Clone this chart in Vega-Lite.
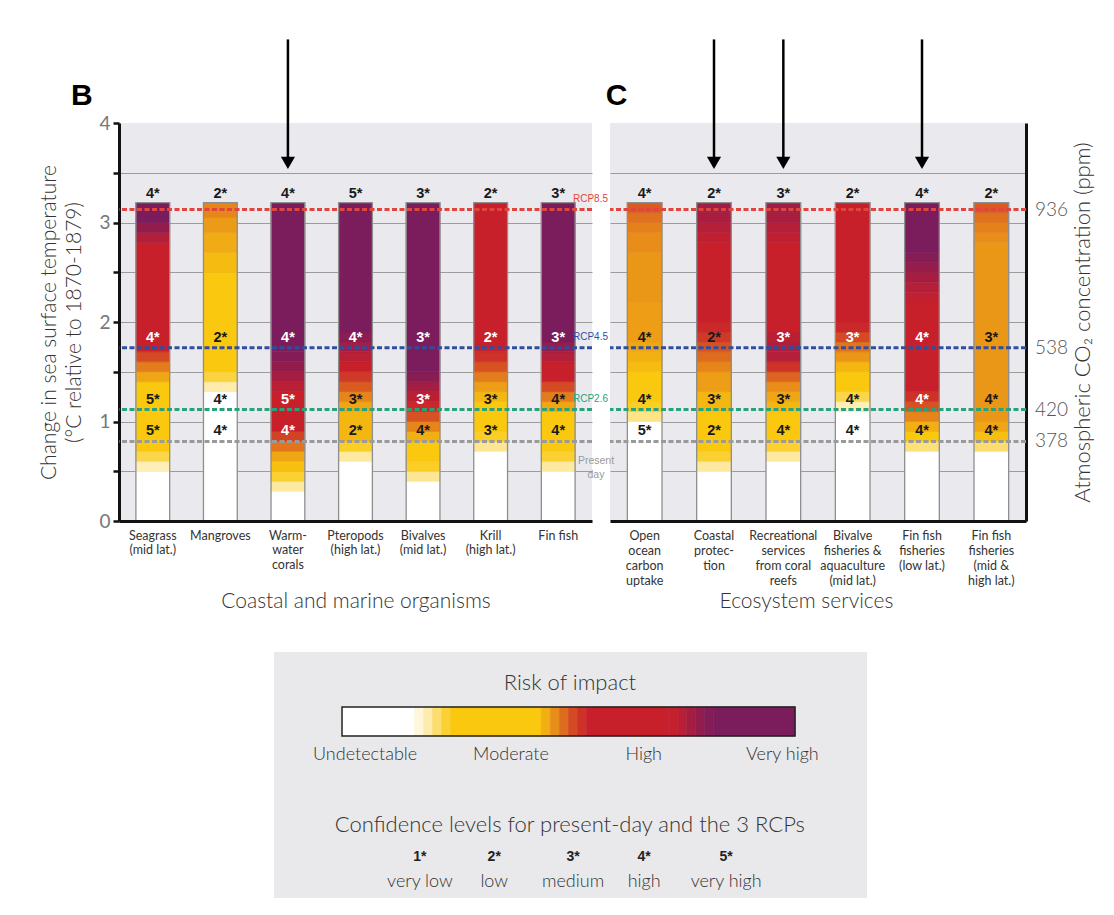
{
  "$schema": "https://vega.github.io/schema/vega-lite/v6.json",
  "background": "white",
  "padding": {"left": 38, "top": 38, "right": 10, "bottom": 5},
  "config": {"view": {"stroke": null}, "font": "Lato"},
  "datasets": {
    "rcp": [
      {"s": "RCP8.5", "t": 3.13, "ppm": "936"},
      {"s": "RCP4.5", "t": 1.74, "ppm": "538"},
      {"s": "RCP2.6", "t": 1.12, "ppm": "420"},
      {"s": "Present day", "t": 0.8, "ppm": "378"}
    ],
    "barsB": [
      {"c": "Seagrass\n(mid lat.)", "top": 3.2},
      {"c": "Mangroves", "top": 3.2},
      {"c": "Warm-\nwater\ncorals", "top": 3.2},
      {"c": "Pteropods\n(high lat.)", "top": 3.2},
      {"c": "Bivalves\n(mid lat.)", "top": 3.2},
      {"c": "Krill\n(high lat.)", "top": 3.2},
      {"c": "Fin fish", "top": 3.2}
    ],
    "barsC": [
      {"c": "Open\nocean\ncarbon\nuptake", "top": 3.2},
      {"c": "Coastal\nprotec-\ntion", "top": 3.2},
      {"c": "Recreational\nservices\nfrom coral\nreefs", "top": 3.2},
      {"c": "Bivalve\nfisheries &\naquaculture\n(mid lat.)", "top": 3.2},
      {"c": "Fin fish\nfisheries\n(low lat.)", "top": 3.2},
      {"c": "Fin fish\nfisheries\n(mid &\nhigh lat.)", "top": 3.2}
    ],
    "arrowsB": [{"c": "Warm-\nwater\ncorals"}],
    "arrowsC": [
      {"c": "Coastal\nprotec-\ntion"},
      {"c": "Recreational\nservices\nfrom coral\nreefs"},
      {"c": "Fin fish\nfisheries\n(low lat.)"}
    ],
    "cellsB": [
      {"c": "Seagrass\n(mid lat.)", "t": 0, "u": 0.5, "r": 0},
      {"c": "Seagrass\n(mid lat.)", "t": 0.5, "u": 0.6, "r": 0.3},
      {"c": "Seagrass\n(mid lat.)", "t": 0.6, "u": 0.7, "r": 0.75},
      {"c": "Seagrass\n(mid lat.)", "t": 0.7, "u": 1.4, "r": 1},
      {"c": "Seagrass\n(mid lat.)", "t": 1.4, "u": 1.5, "r": 1.2},
      {"c": "Seagrass\n(mid lat.)", "t": 1.5, "u": 1.6, "r": 1.45},
      {"c": "Seagrass\n(mid lat.)", "t": 1.6, "u": 1.7, "r": 1.75},
      {"c": "Seagrass\n(mid lat.)", "t": 1.7, "u": 2.8, "r": 2},
      {"c": "Seagrass\n(mid lat.)", "t": 2.8, "u": 2.9, "r": 2.3},
      {"c": "Seagrass\n(mid lat.)", "t": 2.9, "u": 3.0, "r": 2.7},
      {"c": "Seagrass\n(mid lat.)", "t": 3.0, "u": 3.2, "r": 3},
      {"c": "Mangroves", "t": 0, "u": 1.3, "r": 0},
      {"c": "Mangroves", "t": 1.3, "u": 1.4, "r": 0.35},
      {"c": "Mangroves", "t": 1.4, "u": 1.5, "r": 0.8},
      {"c": "Mangroves", "t": 1.5, "u": 2.5, "r": 1},
      {"c": "Mangroves", "t": 2.5, "u": 2.7, "r": 1.08},
      {"c": "Mangroves", "t": 2.7, "u": 2.9, "r": 1.17},
      {"c": "Mangroves", "t": 2.9, "u": 3.05, "r": 1.27},
      {"c": "Mangroves", "t": 3.05, "u": 3.2, "r": 1.4},
      {"c": "Warm-\nwater\ncorals", "t": 0, "u": 0.3, "r": 0},
      {"c": "Warm-\nwater\ncorals", "t": 0.3, "u": 0.4, "r": 0.4},
      {"c": "Warm-\nwater\ncorals", "t": 0.4, "u": 0.5, "r": 0.85},
      {"c": "Warm-\nwater\ncorals", "t": 0.5, "u": 0.6, "r": 1.05},
      {"c": "Warm-\nwater\ncorals", "t": 0.6, "u": 0.7, "r": 1.2},
      {"c": "Warm-\nwater\ncorals", "t": 0.7, "u": 0.8, "r": 1.5},
      {"c": "Warm-\nwater\ncorals", "t": 0.8, "u": 0.9, "r": 1.8},
      {"c": "Warm-\nwater\ncorals", "t": 0.9, "u": 1.3, "r": 2},
      {"c": "Warm-\nwater\ncorals", "t": 1.3, "u": 1.4, "r": 2.2},
      {"c": "Warm-\nwater\ncorals", "t": 1.4, "u": 1.5, "r": 2.45},
      {"c": "Warm-\nwater\ncorals", "t": 1.5, "u": 1.6, "r": 2.7},
      {"c": "Warm-\nwater\ncorals", "t": 1.6, "u": 1.7, "r": 2.9},
      {"c": "Warm-\nwater\ncorals", "t": 1.7, "u": 3.2, "r": 3},
      {"c": "Pteropods\n(high lat.)", "t": 0, "u": 0.6, "r": 0},
      {"c": "Pteropods\n(high lat.)", "t": 0.6, "u": 0.7, "r": 0.4},
      {"c": "Pteropods\n(high lat.)", "t": 0.7, "u": 0.8, "r": 0.9},
      {"c": "Pteropods\n(high lat.)", "t": 0.8, "u": 1.1, "r": 1.1},
      {"c": "Pteropods\n(high lat.)", "t": 1.1, "u": 1.2, "r": 1.2},
      {"c": "Pteropods\n(high lat.)", "t": 1.2, "u": 1.3, "r": 1.4},
      {"c": "Pteropods\n(high lat.)", "t": 1.3, "u": 1.4, "r": 1.65},
      {"c": "Pteropods\n(high lat.)", "t": 1.4, "u": 1.5, "r": 1.85},
      {"c": "Pteropods\n(high lat.)", "t": 1.5, "u": 1.6, "r": 2},
      {"c": "Pteropods\n(high lat.)", "t": 1.6, "u": 1.7, "r": 2.2},
      {"c": "Pteropods\n(high lat.)", "t": 1.7, "u": 1.8, "r": 2.5},
      {"c": "Pteropods\n(high lat.)", "t": 1.8, "u": 1.9, "r": 2.8},
      {"c": "Pteropods\n(high lat.)", "t": 1.9, "u": 3.2, "r": 3},
      {"c": "Bivalves\n(mid lat.)", "t": 0, "u": 0.4, "r": 0},
      {"c": "Bivalves\n(mid lat.)", "t": 0.4, "u": 0.5, "r": 0.45},
      {"c": "Bivalves\n(mid lat.)", "t": 0.5, "u": 0.6, "r": 0.9},
      {"c": "Bivalves\n(mid lat.)", "t": 0.6, "u": 0.8, "r": 1},
      {"c": "Bivalves\n(mid lat.)", "t": 0.8, "u": 0.9, "r": 1.15},
      {"c": "Bivalves\n(mid lat.)", "t": 0.9, "u": 1.0, "r": 1.4},
      {"c": "Bivalves\n(mid lat.)", "t": 1.0, "u": 1.1, "r": 1.7},
      {"c": "Bivalves\n(mid lat.)", "t": 1.1, "u": 1.2, "r": 1.95},
      {"c": "Bivalves\n(mid lat.)", "t": 1.2, "u": 1.3, "r": 2.15},
      {"c": "Bivalves\n(mid lat.)", "t": 1.3, "u": 1.4, "r": 2.5},
      {"c": "Bivalves\n(mid lat.)", "t": 1.4, "u": 1.5, "r": 2.85},
      {"c": "Bivalves\n(mid lat.)", "t": 1.5, "u": 3.2, "r": 3},
      {"c": "Krill\n(high lat.)", "t": 0, "u": 0.7, "r": 0},
      {"c": "Krill\n(high lat.)", "t": 0.7, "u": 0.8, "r": 0.45},
      {"c": "Krill\n(high lat.)", "t": 0.8, "u": 0.9, "r": 0.9},
      {"c": "Krill\n(high lat.)", "t": 0.9, "u": 1.2, "r": 1},
      {"c": "Krill\n(high lat.)", "t": 1.2, "u": 1.3, "r": 1.1},
      {"c": "Krill\n(high lat.)", "t": 1.3, "u": 1.4, "r": 1.25},
      {"c": "Krill\n(high lat.)", "t": 1.4, "u": 1.5, "r": 1.45},
      {"c": "Krill\n(high lat.)", "t": 1.5, "u": 1.6, "r": 1.7},
      {"c": "Krill\n(high lat.)", "t": 1.6, "u": 1.7, "r": 1.9},
      {"c": "Krill\n(high lat.)", "t": 1.7, "u": 3.2, "r": 2},
      {"c": "Fin fish", "t": 0, "u": 0.5, "r": 0},
      {"c": "Fin fish", "t": 0.5, "u": 0.6, "r": 0.4},
      {"c": "Fin fish", "t": 0.6, "u": 0.7, "r": 0.85},
      {"c": "Fin fish", "t": 0.7, "u": 1.1, "r": 1},
      {"c": "Fin fish", "t": 1.1, "u": 1.2, "r": 1.2},
      {"c": "Fin fish", "t": 1.2, "u": 1.3, "r": 1.45},
      {"c": "Fin fish", "t": 1.3, "u": 1.4, "r": 1.75},
      {"c": "Fin fish", "t": 1.4, "u": 1.6, "r": 2},
      {"c": "Fin fish", "t": 1.6, "u": 1.7, "r": 2.3},
      {"c": "Fin fish", "t": 1.7, "u": 1.8, "r": 2.65},
      {"c": "Fin fish", "t": 1.8, "u": 3.2, "r": 3}
    ],
    "cellsC": [
      {"c": "Open\nocean\ncarbon\nuptake", "t": 0, "u": 1.0, "r": 0},
      {"c": "Open\nocean\ncarbon\nuptake", "t": 1.0, "u": 1.1, "r": 0.5},
      {"c": "Open\nocean\ncarbon\nuptake", "t": 1.1, "u": 1.2, "r": 0.9},
      {"c": "Open\nocean\ncarbon\nuptake", "t": 1.2, "u": 1.5, "r": 1},
      {"c": "Open\nocean\ncarbon\nuptake", "t": 1.5, "u": 1.6, "r": 1.07},
      {"c": "Open\nocean\ncarbon\nuptake", "t": 1.6, "u": 1.7, "r": 1.14},
      {"c": "Open\nocean\ncarbon\nuptake", "t": 1.7, "u": 1.8, "r": 1.2},
      {"c": "Open\nocean\ncarbon\nuptake", "t": 1.8, "u": 2.2, "r": 1.25},
      {"c": "Open\nocean\ncarbon\nuptake", "t": 2.2, "u": 2.7, "r": 1.3},
      {"c": "Open\nocean\ncarbon\nuptake", "t": 2.7, "u": 2.9, "r": 1.35},
      {"c": "Open\nocean\ncarbon\nuptake", "t": 2.9, "u": 3.0, "r": 1.42},
      {"c": "Open\nocean\ncarbon\nuptake", "t": 3.0, "u": 3.1, "r": 1.52},
      {"c": "Open\nocean\ncarbon\nuptake", "t": 3.1, "u": 3.2, "r": 1.65},
      {"c": "Coastal\nprotec-\ntion", "t": 0, "u": 0.5, "r": 0},
      {"c": "Coastal\nprotec-\ntion", "t": 0.5, "u": 0.6, "r": 0.4},
      {"c": "Coastal\nprotec-\ntion", "t": 0.6, "u": 0.7, "r": 0.85},
      {"c": "Coastal\nprotec-\ntion", "t": 0.7, "u": 1.1, "r": 1},
      {"c": "Coastal\nprotec-\ntion", "t": 1.1, "u": 1.3, "r": 1.1},
      {"c": "Coastal\nprotec-\ntion", "t": 1.3, "u": 1.5, "r": 1.25},
      {"c": "Coastal\nprotec-\ntion", "t": 1.5, "u": 1.6, "r": 1.4},
      {"c": "Coastal\nprotec-\ntion", "t": 1.6, "u": 1.7, "r": 1.55},
      {"c": "Coastal\nprotec-\ntion", "t": 1.7, "u": 1.8, "r": 1.7},
      {"c": "Coastal\nprotec-\ntion", "t": 1.8, "u": 1.9, "r": 1.85},
      {"c": "Coastal\nprotec-\ntion", "t": 1.9, "u": 2.0, "r": 1.95},
      {"c": "Coastal\nprotec-\ntion", "t": 2.0, "u": 2.8, "r": 2},
      {"c": "Coastal\nprotec-\ntion", "t": 2.8, "u": 2.9, "r": 2.1},
      {"c": "Coastal\nprotec-\ntion", "t": 2.9, "u": 3.0, "r": 2.25},
      {"c": "Coastal\nprotec-\ntion", "t": 3.0, "u": 3.1, "r": 2.4},
      {"c": "Coastal\nprotec-\ntion", "t": 3.1, "u": 3.2, "r": 2.55},
      {"c": "Recreational\nservices\nfrom coral\nreefs", "t": 0, "u": 0.6, "r": 0},
      {"c": "Recreational\nservices\nfrom coral\nreefs", "t": 0.6, "u": 0.7, "r": 0.4},
      {"c": "Recreational\nservices\nfrom coral\nreefs", "t": 0.7, "u": 0.8, "r": 0.85},
      {"c": "Recreational\nservices\nfrom coral\nreefs", "t": 0.8, "u": 1.1, "r": 1},
      {"c": "Recreational\nservices\nfrom coral\nreefs", "t": 1.1, "u": 1.2, "r": 1.1},
      {"c": "Recreational\nservices\nfrom coral\nreefs", "t": 1.2, "u": 1.3, "r": 1.2},
      {"c": "Recreational\nservices\nfrom coral\nreefs", "t": 1.3, "u": 1.4, "r": 1.35},
      {"c": "Recreational\nservices\nfrom coral\nreefs", "t": 1.4, "u": 1.5, "r": 1.6},
      {"c": "Recreational\nservices\nfrom coral\nreefs", "t": 1.5, "u": 1.6, "r": 1.9},
      {"c": "Recreational\nservices\nfrom coral\nreefs", "t": 1.6, "u": 1.7, "r": 2.25},
      {"c": "Recreational\nservices\nfrom coral\nreefs", "t": 1.7, "u": 1.8, "r": 2.35},
      {"c": "Recreational\nservices\nfrom coral\nreefs", "t": 1.8, "u": 1.9, "r": 2.15},
      {"c": "Recreational\nservices\nfrom coral\nreefs", "t": 1.9, "u": 2.8, "r": 2},
      {"c": "Recreational\nservices\nfrom coral\nreefs", "t": 2.8, "u": 2.9, "r": 2.1},
      {"c": "Recreational\nservices\nfrom coral\nreefs", "t": 2.9, "u": 3.0, "r": 2.25},
      {"c": "Recreational\nservices\nfrom coral\nreefs", "t": 3.0, "u": 3.1, "r": 2.4},
      {"c": "Recreational\nservices\nfrom coral\nreefs", "t": 3.1, "u": 3.2, "r": 2.55},
      {"c": "Bivalve\nfisheries &\naquaculture\n(mid lat.)", "t": 0, "u": 1.1, "r": 0},
      {"c": "Bivalve\nfisheries &\naquaculture\n(mid lat.)", "t": 1.1, "u": 1.2, "r": 0.3},
      {"c": "Bivalve\nfisheries &\naquaculture\n(mid lat.)", "t": 1.2, "u": 1.3, "r": 0.75},
      {"c": "Bivalve\nfisheries &\naquaculture\n(mid lat.)", "t": 1.3, "u": 1.5, "r": 1},
      {"c": "Bivalve\nfisheries &\naquaculture\n(mid lat.)", "t": 1.5, "u": 1.6, "r": 1.1},
      {"c": "Bivalve\nfisheries &\naquaculture\n(mid lat.)", "t": 1.6, "u": 1.7, "r": 1.3},
      {"c": "Bivalve\nfisheries &\naquaculture\n(mid lat.)", "t": 1.7, "u": 1.8, "r": 1.5},
      {"c": "Bivalve\nfisheries &\naquaculture\n(mid lat.)", "t": 1.8, "u": 1.9, "r": 1.75},
      {"c": "Bivalve\nfisheries &\naquaculture\n(mid lat.)", "t": 1.9, "u": 2.0, "r": 1.95},
      {"c": "Bivalve\nfisheries &\naquaculture\n(mid lat.)", "t": 2.0, "u": 3.2, "r": 2},
      {"c": "Fin fish\nfisheries\n(low lat.)", "t": 0, "u": 0.7, "r": 0},
      {"c": "Fin fish\nfisheries\n(low lat.)", "t": 0.7, "u": 0.8, "r": 0.55},
      {"c": "Fin fish\nfisheries\n(low lat.)", "t": 0.8, "u": 0.9, "r": 1},
      {"c": "Fin fish\nfisheries\n(low lat.)", "t": 0.9, "u": 1.0, "r": 1.15},
      {"c": "Fin fish\nfisheries\n(low lat.)", "t": 1.0, "u": 1.1, "r": 1.4},
      {"c": "Fin fish\nfisheries\n(low lat.)", "t": 1.1, "u": 1.2, "r": 1.7},
      {"c": "Fin fish\nfisheries\n(low lat.)", "t": 1.2, "u": 1.3, "r": 1.9},
      {"c": "Fin fish\nfisheries\n(low lat.)", "t": 1.3, "u": 2.2, "r": 2},
      {"c": "Fin fish\nfisheries\n(low lat.)", "t": 2.2, "u": 2.3, "r": 2.1},
      {"c": "Fin fish\nfisheries\n(low lat.)", "t": 2.3, "u": 2.4, "r": 2.25},
      {"c": "Fin fish\nfisheries\n(low lat.)", "t": 2.4, "u": 2.5, "r": 2.45},
      {"c": "Fin fish\nfisheries\n(low lat.)", "t": 2.5, "u": 2.6, "r": 2.65},
      {"c": "Fin fish\nfisheries\n(low lat.)", "t": 2.6, "u": 2.7, "r": 2.85},
      {"c": "Fin fish\nfisheries\n(low lat.)", "t": 2.7, "u": 3.2, "r": 3},
      {"c": "Fin fish\nfisheries\n(mid &\nhigh lat.)", "t": 0, "u": 0.7, "r": 0},
      {"c": "Fin fish\nfisheries\n(mid &\nhigh lat.)", "t": 0.7, "u": 0.8, "r": 0.6},
      {"c": "Fin fish\nfisheries\n(mid &\nhigh lat.)", "t": 0.8, "u": 0.9, "r": 1.05},
      {"c": "Fin fish\nfisheries\n(mid &\nhigh lat.)", "t": 0.9, "u": 1.0, "r": 1.2},
      {"c": "Fin fish\nfisheries\n(mid &\nhigh lat.)", "t": 1.0, "u": 2.8, "r": 1.3},
      {"c": "Fin fish\nfisheries\n(mid &\nhigh lat.)", "t": 2.8, "u": 2.9, "r": 1.35},
      {"c": "Fin fish\nfisheries\n(mid &\nhigh lat.)", "t": 2.9, "u": 3.0, "r": 1.42},
      {"c": "Fin fish\nfisheries\n(mid &\nhigh lat.)", "t": 3.0, "u": 3.1, "r": 1.52},
      {"c": "Fin fish\nfisheries\n(mid &\nhigh lat.)", "t": 3.1, "u": 3.2, "r": 1.65}
    ],
    "labB": [
      {"c": "Seagrass\n(mid lat.)", "s": "RCP8.5", "lab": "4*", "r": 0},
      {"c": "Seagrass\n(mid lat.)", "s": "RCP4.5", "lab": "4*", "r": 2},
      {"c": "Seagrass\n(mid lat.)", "s": "RCP2.6", "lab": "5*", "r": 1},
      {"c": "Seagrass\n(mid lat.)", "s": "Present day", "lab": "5*", "r": 1},
      {"c": "Mangroves", "s": "RCP8.5", "lab": "2*", "r": 0},
      {"c": "Mangroves", "s": "RCP4.5", "lab": "2*", "r": 1},
      {"c": "Mangroves", "s": "RCP2.6", "lab": "4*", "r": 0},
      {"c": "Mangroves", "s": "Present day", "lab": "4*", "r": 0},
      {"c": "Warm-\nwater\ncorals", "s": "RCP8.5", "lab": "4*", "r": 0},
      {"c": "Warm-\nwater\ncorals", "s": "RCP4.5", "lab": "4*", "r": 3},
      {"c": "Warm-\nwater\ncorals", "s": "RCP2.6", "lab": "5*", "r": 2},
      {"c": "Warm-\nwater\ncorals", "s": "Present day", "lab": "4*", "r": 1.9},
      {"c": "Pteropods\n(high lat.)", "s": "RCP8.5", "lab": "5*", "r": 0},
      {"c": "Pteropods\n(high lat.)", "s": "RCP4.5", "lab": "4*", "r": 2.7},
      {"c": "Pteropods\n(high lat.)", "s": "RCP2.6", "lab": "3*", "r": 1.3},
      {"c": "Pteropods\n(high lat.)", "s": "Present day", "lab": "2*", "r": 1},
      {"c": "Bivalves\n(mid lat.)", "s": "RCP8.5", "lab": "3*", "r": 0},
      {"c": "Bivalves\n(mid lat.)", "s": "RCP4.5", "lab": "3*", "r": 3},
      {"c": "Bivalves\n(mid lat.)", "s": "RCP2.6", "lab": "3*", "r": 2.1},
      {"c": "Bivalves\n(mid lat.)", "s": "Present day", "lab": "4*", "r": 1.2},
      {"c": "Krill\n(high lat.)", "s": "RCP8.5", "lab": "2*", "r": 0},
      {"c": "Krill\n(high lat.)", "s": "RCP4.5", "lab": "2*", "r": 2},
      {"c": "Krill\n(high lat.)", "s": "RCP2.6", "lab": "3*", "r": 1},
      {"c": "Krill\n(high lat.)", "s": "Present day", "lab": "3*", "r": 1},
      {"c": "Fin fish", "s": "RCP8.5", "lab": "3*", "r": 0},
      {"c": "Fin fish", "s": "RCP4.5", "lab": "3*", "r": 3},
      {"c": "Fin fish", "s": "RCP2.6", "lab": "4*", "r": 1.5},
      {"c": "Fin fish", "s": "Present day", "lab": "4*", "r": 1}
    ],
    "labC": [
      {"c": "Open\nocean\ncarbon\nuptake", "s": "RCP8.5", "lab": "4*", "r": 0},
      {"c": "Open\nocean\ncarbon\nuptake", "s": "RCP4.5", "lab": "4*", "r": 1.2},
      {"c": "Open\nocean\ncarbon\nuptake", "s": "RCP2.6", "lab": "4*", "r": 1},
      {"c": "Open\nocean\ncarbon\nuptake", "s": "Present day", "lab": "5*", "r": 0},
      {"c": "Coastal\nprotec-\ntion", "s": "RCP8.5", "lab": "2*", "r": 0},
      {"c": "Coastal\nprotec-\ntion", "s": "RCP4.5", "lab": "2*", "r": 1.65},
      {"c": "Coastal\nprotec-\ntion", "s": "RCP2.6", "lab": "3*", "r": 1.1},
      {"c": "Coastal\nprotec-\ntion", "s": "Present day", "lab": "2*", "r": 1},
      {"c": "Recreational\nservices\nfrom coral\nreefs", "s": "RCP8.5", "lab": "3*", "r": 0},
      {"c": "Recreational\nservices\nfrom coral\nreefs", "s": "RCP4.5", "lab": "3*", "r": 2.2},
      {"c": "Recreational\nservices\nfrom coral\nreefs", "s": "RCP2.6", "lab": "3*", "r": 1.1},
      {"c": "Recreational\nservices\nfrom coral\nreefs", "s": "Present day", "lab": "4*", "r": 1},
      {"c": "Bivalve\nfisheries &\naquaculture\n(mid lat.)", "s": "RCP8.5", "lab": "2*", "r": 0},
      {"c": "Bivalve\nfisheries &\naquaculture\n(mid lat.)", "s": "RCP4.5", "lab": "3*", "r": 1.8},
      {"c": "Bivalve\nfisheries &\naquaculture\n(mid lat.)", "s": "RCP2.6", "lab": "4*", "r": 0.5},
      {"c": "Bivalve\nfisheries &\naquaculture\n(mid lat.)", "s": "Present day", "lab": "4*", "r": 0},
      {"c": "Fin fish\nfisheries\n(low lat.)", "s": "RCP8.5", "lab": "4*", "r": 0},
      {"c": "Fin fish\nfisheries\n(low lat.)", "s": "RCP4.5", "lab": "4*", "r": 2},
      {"c": "Fin fish\nfisheries\n(low lat.)", "s": "RCP2.6", "lab": "4*", "r": 1.9},
      {"c": "Fin fish\nfisheries\n(low lat.)", "s": "Present day", "lab": "4*", "r": 1},
      {"c": "Fin fish\nfisheries\n(mid &\nhigh lat.)", "s": "RCP8.5", "lab": "2*", "r": 0},
      {"c": "Fin fish\nfisheries\n(mid &\nhigh lat.)", "s": "RCP4.5", "lab": "3*", "r": 1.3},
      {"c": "Fin fish\nfisheries\n(mid &\nhigh lat.)", "s": "RCP2.6", "lab": "4*", "r": 1.1},
      {"c": "Fin fish\nfisheries\n(mid &\nhigh lat.)", "s": "Present day", "lab": "4*", "r": 1}
    ],
    "legendCells": [
      {"p": 0, "q": 0.16, "r": 0},
      {"p": 0.16, "q": 0.18, "r": 0.15},
      {"p": 0.18, "q": 0.2, "r": 0.35},
      {"p": 0.2, "q": 0.22, "r": 0.6},
      {"p": 0.22, "q": 0.24, "r": 0.85},
      {"p": 0.24, "q": 0.44, "r": 1},
      {"p": 0.44, "q": 0.46, "r": 1.15},
      {"p": 0.46, "q": 0.48, "r": 1.35},
      {"p": 0.48, "q": 0.5, "r": 1.55},
      {"p": 0.5, "q": 0.52, "r": 1.75},
      {"p": 0.52, "q": 0.54, "r": 1.9},
      {"p": 0.54, "q": 0.72, "r": 2},
      {"p": 0.72, "q": 0.74, "r": 2.05},
      {"p": 0.74, "q": 0.76, "r": 2.2},
      {"p": 0.76, "q": 0.78, "r": 2.45},
      {"p": 0.78, "q": 0.8, "r": 2.7},
      {"p": 0.8, "q": 0.82, "r": 2.9},
      {"p": 0.82, "q": 1, "r": 3}
    ],
    "riskLabels": [
      {"lab": "Undetectable", "p": 0.051},
      {"lab": "Moderate", "p": 0.373},
      {"lab": "High", "p": 0.666},
      {"lab": "Very high", "p": 0.972}
    ],
    "confLevels": [
      {"n": "1*", "lab": "very low", "p": 0.172},
      {"n": "2*", "lab": "low", "p": 0.336},
      {"n": "3*", "lab": "medium", "p": 0.51},
      {"n": "4*", "lab": "high", "p": 0.667},
      {"n": "5*", "lab": "very high", "p": 0.848}
    ]
  },
  "vconcat": [
    {
      "hconcat": [
        {
          "width": 473,
          "height": 398,
          "view": {"fill": "#eaeaee", "stroke": null},
          "layer": [
            {
              "data": {"name": "cellsB"},
              "mark": {"type": "rect", "strokeWidth": 0.6},
              "encoding": {
                "x": {
                  "field": "c", "type": "nominal",
                  "scale": {"domain": ["Seagrass\n(mid lat.)", "Mangroves", "Warm-\nwater\ncorals", "Pteropods\n(high lat.)", "Bivalves\n(mid lat.)", "Krill\n(high lat.)", "Fin fish"], "paddingInner": 0.5, "paddingOuter": 0.25},
                  "axis": {"title": "Coastal and marine organisms", "labelExpr": "split(datum.label, '\\n')", "labelAngle": 0, "labelFontSize": 12.5, "labelLineHeight": 14.5, "labelColor": "#333", "labelPadding": 8, "labelOverlap": false, "ticks": false, "domainColor": "#111", "domainWidth": 3, "titleFontSize": 21, "titleFontWeight": 300, "titleColor": "#333", "titleY": 80, "titleBaseline": "middle"}
                },
                "y": {
                  "field": "t", "type": "quantitative",
                  "scale": {"domain": [0, 4], "nice": false, "zero": false},
                  "axis": {"title": ["Change in sea surface temperature", "(°C  relative to 1870-1879)"], "values": [0, 0.5, 1, 1.5, 2, 2.5, 3, 3.5, 4], "labelExpr": "datum.value % 1 ? '' : format(datum.value, 'd')", "grid": true, "gridColor": "#9c9c9c", "gridOpacity": {"condition": {"test": "datum.value === 0 || datum.value === 4", "value": 0}, "value": 1}, "domainColor": "#111", "domainWidth": 3, "tickColor": "#111", "tickWidth": 2.5, "tickSize": 6, "labelFontSize": 19, "labelColor": "#777", "labelPadding": 3, "titleFontSize": 21, "titleFontWeight": 300, "titleColor": "#333", "titlePadding": 14, "titleLineHeight": 25}
                },
                "y2": {"field": "u"},
                "fill": {"field": "r", "type": "quantitative", "scale": {"domain": [0, 1, 2, 3], "range": ["#ffffff", "#f9c80f", "#c8202b", "#7b1c5c"], "interpolate": "rgb"}, "legend": null},
                "stroke": {"field": "r", "type": "quantitative", "scale": {"domain": [0, 1, 2, 3], "range": ["#ffffff", "#f9c80f", "#c8202b", "#7b1c5c"], "interpolate": "rgb"}, "legend": null}
              }
            },
            {
              "data": {"name": "barsB"},
              "mark": {"type": "rect", "filled": false, "color": "#8e8e8e", "strokeWidth": 1.3},
              "encoding": {
                "x": {"field": "c", "type": "nominal"},
                "y": {"field": "top", "type": "quantitative"},
                "y2": {"datum": 0}
              }
            },
            {
              "data": {"name": "rcp"},
              "mark": {"type": "rule", "strokeWidth": 3, "strokeDash": [5, 2.5]},
              "encoding": {
                "y": {"field": "t", "type": "quantitative"},
                "color": {"field": "s", "type": "nominal", "scale": {"domain": ["RCP8.5", "RCP4.5", "RCP2.6", "Present day"], "range": ["#e2453d", "#2f4e9f", "#28a27b", "#9a9a9a"]}, "legend": null}
              }
            },
            {
              "data": {"name": "labB"},
              "transform": [
                {"lookup": "s", "from": {"data": {"name": "rcp"}, "key": "s", "fields": ["t"]}},
                {"filter": "datum.s === 'RCP8.5'"}
              ],
              "mark": {"type": "text", "font": "Liberation Sans", "fontWeight": "bold", "fontSize": 14.5, "baseline": "middle", "dy": -16},
              "encoding": {
                "x": {"field": "c", "type": "nominal"},
                "y": {"field": "t", "type": "quantitative"},
                "text": {"field": "lab"},
                "color": {"condition": {"test": "datum.r >= 1.7", "value": "#ffffff"}, "value": "#1a1a1a"}
              }
            },
            {
              "data": {"name": "labB"},
              "transform": [
                {"lookup": "s", "from": {"data": {"name": "rcp"}, "key": "s", "fields": ["t"]}},
                {"filter": "datum.s !== 'RCP8.5'"}
              ],
              "mark": {"type": "text", "font": "Liberation Sans", "fontWeight": "bold", "fontSize": 14.5, "baseline": "middle", "dy": -10},
              "encoding": {
                "x": {"field": "c", "type": "nominal"},
                "y": {"field": "t", "type": "quantitative"},
                "text": {"field": "lab"},
                "color": {"condition": {"test": "datum.r >= 1.7", "value": "#ffffff"}, "value": "#1a1a1a"}
              }
            },
            {
              "data": {"name": "rcp"},
              "transform": [{"filter": "datum.s !== 'Present day'"}],
              "mark": {"type": "text", "font": "Liberation Sans", "fontSize": 10, "align": "right", "baseline": "middle", "dx": 16, "dy": -11},
              "encoding": {
                "x": {"value": "width"},
                "y": {"field": "t", "type": "quantitative"},
                "text": {"field": "s"},
                "color": {"field": "s", "type": "nominal", "legend": null}
              }
            },
            {
              "data": {"name": "arrowsB"},
              "mark": {"type": "rule", "color": "black", "strokeWidth": 2.5},
              "encoding": {
                "x": {"field": "c", "type": "nominal"},
                "y": {"datum": 4.84, "type": "quantitative"},
                "y2": {"datum": 3.62}
              }
            },
            {
              "data": {"name": "arrowsB"},
              "mark": {"type": "point", "shape": "triangle-down", "filled": true, "color": "black", "size": 200, "opacity": 1, "strokeWidth": 0},
              "encoding": {
                "x": {"field": "c", "type": "nominal"},
                "y": {"datum": 3.6, "type": "quantitative"}
              }
            },
            {
              "data": {"values": [{"panel": "B"}]},
              "mark": {"type": "text", "font": "Liberation Sans", "fontWeight": "bold", "fontSize": 30, "baseline": "middle", "align": "center", "dx": -71},
              "encoding": {
                "x": {"datum": "Seagrass\n(mid lat.)", "type": "nominal"},
                "y": {"datum": 4.27, "type": "quantitative"},
                "text": {"field": "panel"}
              }
            }
          ]
        },
        {
          "width": 416,
          "height": 398,
          "view": {"fill": "#eaeaee", "stroke": null},
          "layer": [
            {
              "data": {"name": "cellsC"},
              "mark": {"type": "rect", "strokeWidth": 0.6},
              "encoding": {
                "x": {
                  "field": "c", "type": "nominal",
                  "scale": {"domain": ["Open\nocean\ncarbon\nuptake", "Coastal\nprotec-\ntion", "Recreational\nservices\nfrom coral\nreefs", "Bivalve\nfisheries &\naquaculture\n(mid lat.)", "Fin fish\nfisheries\n(low lat.)", "Fin fish\nfisheries\n(mid &\nhigh lat.)"], "paddingInner": 0.5, "paddingOuter": 0.25},
                  "axis": {"title": "Ecosystem services", "labelExpr": "split(datum.label, '\\n')", "labelAngle": 0, "labelFontSize": 12.5, "labelLineHeight": 15, "labelColor": "#333", "labelPadding": 8, "labelOverlap": false, "ticks": false, "domainColor": "#111", "domainWidth": 3, "titleFontSize": 21, "titleFontWeight": 300, "titleColor": "#333", "titleY": 80, "titleX": 196, "titleBaseline": "middle"}
                },
                "y": {
                  "field": "t", "type": "quantitative",
                  "scale": {"domain": [0, 4], "nice": false, "zero": false},
                  "axis": {"orient": "right", "title": "Atmospheric CO₂ concentration (ppm)", "titleAngle": 270, "values": [0.5, 1, 1.5, 2, 2.5, 3, 3.5], "labels": false, "ticks": false, "grid": true, "gridColor": "#9c9c9c", "domainColor": "#111", "domainWidth": 3, "titleFontSize": 22, "titleFontWeight": 300, "titleColor": "#333", "titlePadding": 68}
                },
                "y2": {"field": "u"},
                "fill": {"field": "r", "type": "quantitative", "scale": {"domain": [0, 1, 2, 3], "range": ["#ffffff", "#f9c80f", "#c8202b", "#7b1c5c"], "interpolate": "rgb"}, "legend": null},
                "stroke": {"field": "r", "type": "quantitative", "scale": {"domain": [0, 1, 2, 3], "range": ["#ffffff", "#f9c80f", "#c8202b", "#7b1c5c"], "interpolate": "rgb"}, "legend": null}
              }
            },
            {
              "data": {"name": "barsC"},
              "mark": {"type": "rect", "filled": false, "color": "#8e8e8e", "strokeWidth": 1.3},
              "encoding": {
                "x": {"field": "c", "type": "nominal"},
                "y": {"field": "top", "type": "quantitative"},
                "y2": {"datum": 0}
              }
            },
            {
              "data": {"name": "rcp"},
              "mark": {"type": "rule", "strokeWidth": 3, "strokeDash": [5, 2.5]},
              "encoding": {
                "y": {"field": "t", "type": "quantitative"},
                "color": {"field": "s", "type": "nominal", "scale": {"domain": ["RCP8.5", "RCP4.5", "RCP2.6", "Present day"], "range": ["#e2453d", "#2f4e9f", "#28a27b", "#9a9a9a"]}, "legend": null}
              }
            },
            {
              "data": {"name": "rcp"},
              "transform": [{"filter": "datum.s === 'Present day'"}],
              "mark": {"type": "text", "font": "Liberation Sans", "fontSize": 10.5, "align": "center", "baseline": "top", "lineBreak": " ", "lineHeight": 14, "dx": -14, "dy": 15},
              "encoding": {
                "x": {"value": 0},
                "y": {"field": "t", "type": "quantitative"},
                "text": {"field": "s"},
                "color": {"field": "s", "type": "nominal", "legend": null}
              }
            },
            {
              "data": {"name": "labC"},
              "transform": [
                {"lookup": "s", "from": {"data": {"name": "rcp"}, "key": "s", "fields": ["t"]}},
                {"filter": "datum.s === 'RCP8.5'"}
              ],
              "mark": {"type": "text", "font": "Liberation Sans", "fontWeight": "bold", "fontSize": 14.5, "baseline": "middle", "dy": -16},
              "encoding": {
                "x": {"field": "c", "type": "nominal"},
                "y": {"field": "t", "type": "quantitative"},
                "text": {"field": "lab"},
                "color": {"condition": {"test": "datum.r >= 1.7", "value": "#ffffff"}, "value": "#1a1a1a"}
              }
            },
            {
              "data": {"name": "labC"},
              "transform": [
                {"lookup": "s", "from": {"data": {"name": "rcp"}, "key": "s", "fields": ["t"]}},
                {"filter": "datum.s !== 'RCP8.5'"}
              ],
              "mark": {"type": "text", "font": "Liberation Sans", "fontWeight": "bold", "fontSize": 14.5, "baseline": "middle", "dy": -10},
              "encoding": {
                "x": {"field": "c", "type": "nominal"},
                "y": {"field": "t", "type": "quantitative"},
                "text": {"field": "lab"},
                "color": {"condition": {"test": "datum.r >= 1.7", "value": "#ffffff"}, "value": "#1a1a1a"}
              }
            },
            {
              "data": {"name": "rcp"},
              "mark": {"type": "text", "fontSize": 19, "fontWeight": 300, "align": "left", "baseline": "middle", "dx": 9, "color": "#555"},
              "encoding": {
                "x": {"value": "width"},
                "y": {"field": "t", "type": "quantitative"},
                "text": {"field": "ppm"}
              }
            },
            {
              "data": {"name": "arrowsC"},
              "mark": {"type": "rule", "color": "black", "strokeWidth": 2.5},
              "encoding": {
                "x": {"field": "c", "type": "nominal"},
                "y": {"datum": 4.84, "type": "quantitative"},
                "y2": {"datum": 3.62}
              }
            },
            {
              "data": {"name": "arrowsC"},
              "mark": {"type": "point", "shape": "triangle-down", "filled": true, "color": "black", "size": 200, "opacity": 1, "strokeWidth": 0},
              "encoding": {
                "x": {"field": "c", "type": "nominal"},
                "y": {"datum": 3.6, "type": "quantitative"}
              }
            },
            {
              "data": {"values": [{"panel": "C"}]},
              "mark": {"type": "text", "font": "Liberation Sans", "fontWeight": "bold", "fontSize": 30, "baseline": "middle", "align": "center", "dx": -28},
              "encoding": {
                "x": {"datum": "Open\nocean\ncarbon\nuptake", "type": "nominal"},
                "y": {"datum": 4.27, "type": "quantitative"},
                "text": {"field": "panel"}
              }
            }
          ]
        }
      ],
      "spacing": 18,
      "bounds": "flush"
    },
    {
      "width": 748,
      "height": 250,
      "view": {"stroke": null},
      "layer": [
        {
          "data": {"values": [{}]},
          "mark": {"type": "rect", "color": "#e9e9ec"},
          "encoding": {
            "x": {"datum": -0.1501, "type": "quantitative", "scale": {"domain": [-0.4923, 1.1589], "nice": false, "zero": false}, "axis": null},
            "x2": {"datum": 1.1589},
            "y": {"datum": 0, "type": "quantitative", "scale": {"domain": [0, 250], "reverse": true, "nice": false, "zero": false}, "axis": null},
            "y2": {"datum": 246}
          }
        },
        {
          "data": {"name": "legendCells"},
          "mark": {"type": "rect", "strokeWidth": 0.6},
          "encoding": {
            "x": {"field": "p", "type": "quantitative", "axis": null},
            "x2": {"field": "q"},
            "y": {"datum": 55, "type": "quantitative", "axis": null},
            "y2": {"datum": 84},
            "fill": {"field": "r", "type": "quantitative", "legend": null},
            "stroke": {"field": "r", "type": "quantitative", "legend": null}
          }
        },
        {
          "data": {"values": [{}]},
          "mark": {"type": "rect", "filled": false, "color": "#222", "strokeWidth": 1.5},
          "encoding": {
            "x": {"datum": 0, "type": "quantitative", "axis": null},
            "x2": {"datum": 1},
            "y": {"datum": 55, "type": "quantitative", "axis": null},
            "y2": {"datum": 84}
          }
        },
        {
          "data": {"values": [{"txt": "Risk of impact"}]},
          "mark": {"type": "text", "fontSize": 22, "fontWeight": 300, "color": "#333", "baseline": "middle"},
          "encoding": {
            "x": {"datum": 0.503, "type": "quantitative", "axis": null},
            "y": {"datum": 31, "type": "quantitative", "axis": null},
            "text": {"field": "txt"}
          }
        },
        {
          "data": {"name": "riskLabels"},
          "mark": {"type": "text", "fontSize": 18, "fontWeight": 300, "color": "#333", "baseline": "middle"},
          "encoding": {
            "x": {"field": "p", "type": "quantitative", "axis": null},
            "y": {"datum": 103, "type": "quantitative", "axis": null},
            "text": {"field": "lab"}
          }
        },
        {
          "data": {"values": [{"txt": "Confidence levels for present-day and the 3 RCPs"}]},
          "mark": {"type": "text", "fontSize": 22, "fontWeight": 300, "color": "#333", "baseline": "middle"},
          "encoding": {
            "x": {"datum": 0.503, "type": "quantitative", "axis": null},
            "y": {"datum": 173, "type": "quantitative", "axis": null},
            "text": {"field": "txt"}
          }
        },
        {
          "data": {"name": "confLevels"},
          "mark": {"type": "text", "font": "Liberation Sans", "fontWeight": "bold", "fontSize": 14, "color": "#222", "baseline": "middle"},
          "encoding": {
            "x": {"field": "p", "type": "quantitative", "axis": null},
            "y": {"datum": 205, "type": "quantitative", "axis": null},
            "text": {"field": "n"}
          }
        },
        {
          "data": {"name": "confLevels"},
          "mark": {"type": "text", "fontSize": 18, "fontWeight": 300, "color": "#333", "baseline": "middle"},
          "encoding": {
            "x": {"field": "p", "type": "quantitative", "axis": null},
            "y": {"datum": 230, "type": "quantitative", "axis": null},
            "text": {"field": "lab"}
          }
        }
      ]
    }
  ],
  "spacing": 41
}
